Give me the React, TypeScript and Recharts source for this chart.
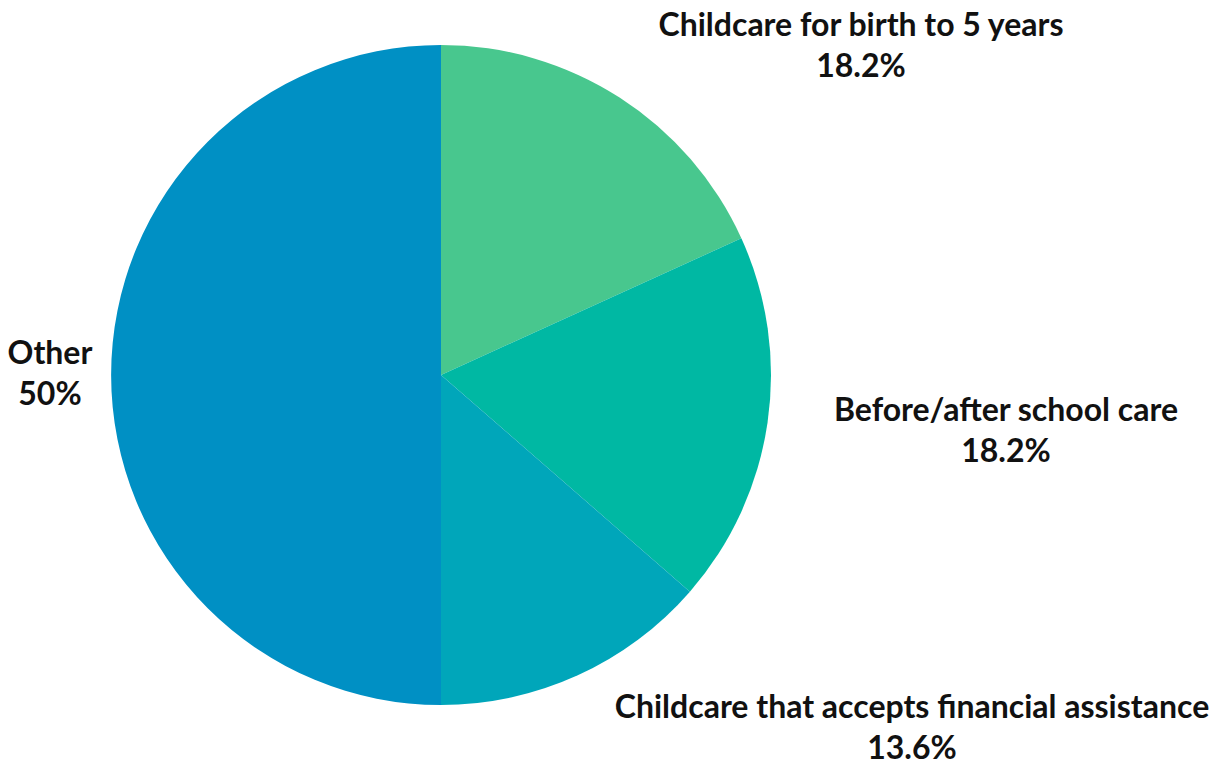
import { PieChart, Pie, Cell } from "recharts";

const categories = [
  "Childcare for birth to 5 years",
  "Before/after school care",
  "Childcare that accepts financial assistance",
  "Other",
];
const shares = [18.2, 18.2, 13.6, 50];
const valueLabels = ["18.2%", "18.2%", "13.6%", "50%"];

const COLORS = ["#48C78E", "#00B8A3", "#00A6BA", "#0090C4"];
// label anchor offsets from the pie centre (first line baseline)
const LABEL_OFFSETS = [
  [420, -339],
  [565, 46],
  [471, 343],
  [-391, -11],
];

const data = categories.map((name, i) => ({
  name,
  value: shares[i],
  label: valueLabels[i],
}));

const renderLabel = (props: any) => {
  const { cx, cy, index } = props;
  const [dx, dy] = LABEL_OFFSETS[index];
  const x = cx + dx;
  const y = cy + dy;
  return (
    <text
      x={x}
      y={y}
      textAnchor="middle"
      fill="#111"
      fontFamily="Lato, 'Open Sans', sans-serif"
      fontWeight={700}
      fontSize={32}
    >
      <tspan x={x} dy={0}>
        {data[index].name}
      </tspan>
      <tspan x={x} dy={41}>
        {data[index].label}
      </tspan>
    </text>
  );
};

const App = () => (
  <div style={{ position: "absolute", left: 0, top: 0, background: "#fff" }}>
    <PieChart
      width={1224}
      height={765}
      margin={{ top: 0, right: 0, bottom: 0, left: 0 }}
    >
      <Pie
        data={data}
        dataKey="value"
        nameKey="name"
        cx={441}
        cy={375}
        outerRadius={330}
        startAngle={90}
        endAngle={-270}
        stroke="none"
        label={renderLabel}
        labelLine={false}
        isAnimationActive={false}
      >
        {data.map((d, i) => (
          <Cell key={d.name} fill={COLORS[i]} />
        ))}
      </Pie>
    </PieChart>
  </div>
);

export default App;
